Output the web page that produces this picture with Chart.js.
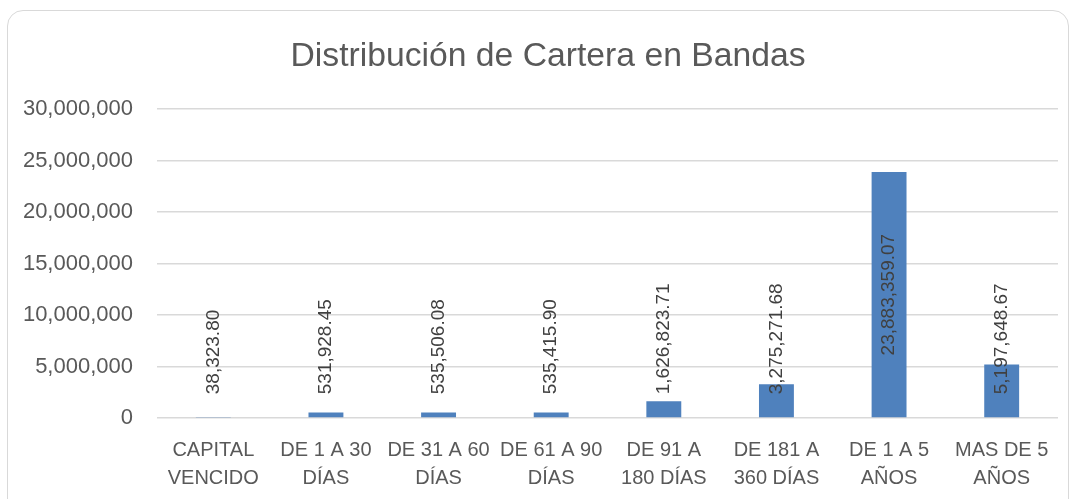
<!DOCTYPE html>
<html>
<head>
<meta charset="utf-8">
<script src="https://cdn.jsdelivr.net/npm/chart.js@4"></script>
<style>
  html, body { margin: 0; padding: 0; background: #fff; overflow: hidden; }
  #wrap { position: relative; width: 1075px; height: 499px; }
  #frame {
    position: absolute; left: 7px; top: 10px; width: 1062px; height: 520px;
    border: 1.5px solid #d9d9d9; border-radius: 16px; box-sizing: border-box;
  }
  canvas { position: absolute; left: 0; top: 0; }
</style>
</head>
<body>
<div id="wrap">
  <div id="frame"></div>
  <canvas id="chart" width="1075" height="499"></canvas>
</div>
<script>
// categories and values
const categories = [
  ['CAPITAL', 'VENCIDO'],
  ['DE 1 A 30', 'DÍAS'],
  ['DE 31 A 60', 'DÍAS'],
  ['DE 61 A 90', 'DÍAS'],
  ['DE 91 A', '180 DÍAS'],
  ['DE 181 A', '360 DÍAS'],
  ['DE 1 A 5', 'AÑOS'],
  ['MAS DE 5', 'AÑOS']
]
const saldo = [38323.80, 531928.45, 535506.08, 535415.90, 1626823.71, 3275271.68, 23883359.07, 5197648.67]
const yMax = 30000000
const yStep = 5000000

const fmtInt = v => Math.round(v).toLocaleString('en-US')
const fmtDec = v => v.toLocaleString('en-US', {minimumFractionDigits: 2, maximumFractionDigits: 2})

// rotated value labels, centred on the bar but kept clear of the base
const barLabels = {
    id: 'barLabels',
    afterLayout(chart) {
        // the title sits a bit right of the canvas centre in the original
        if (chart.titleBlock) {
            chart.titleBlock.left += 19
            chart.titleBlock.right += 19
        }
    },
    afterDatasetsDraw(chart) {
        const ctx = chart.ctx
        const meta = chart.getDatasetMeta(0)
        ctx.save()
        ctx.font = '19px "Liberation Sans", Arial, sans-serif'
        ctx.fillStyle = '#404040'
        ctx.textAlign = 'center'
        ctx.textBaseline = 'middle'
        meta.data.forEach((bar, i) => {
            const text = fmtDec(saldo[i])
            const w = ctx.measureText(text).width
            let cy = (bar.y + bar.base) / 2
            if (cy + w / 2 > bar.base - 23) {
                cy = bar.base - 23 - w / 2
            }
            ctx.save()
            ctx.translate(bar.x, cy)
            ctx.rotate(-Math.PI / 2)
            ctx.fillText(text, 0, 0)
            ctx.restore()
        })
        ctx.restore()
    }
}

new Chart(document.getElementById('chart'), {
    type: 'bar',
    data: {
        labels: categories,
        datasets: [{
            data: saldo,
            backgroundColor: '#4f81bd',
            barPercentage: 0.31,
            categoryPercentage: 1
        }]
    },
    options: {
        responsive: false,
        animation: false,
        layout: {padding: {left: 0, right: 17, top: 0, bottom: 0}},
        plugins: {
            legend: {display: false},
            tooltip: {enabled: false},
            title: {
                display: true,
                text: 'Distribución de Cartera en Bandas',
                color: '#595959',
                font: {family: '"Liberation Sans", Arial, sans-serif', size: 33.7, weight: 'normal'},
                padding: {top: 36, bottom: 32.6}
            }
        },
        scales: {
            x: {
                grid: {display: false},
                border: {display: false},
                ticks: {
                    color: '#595959',
                    font: {family: '"Liberation Sans", Arial, sans-serif', size: 20, lineHeight: 1.4},
                    padding: 10,
                    maxRotation: 0,
                    autoSkip: false
                },
                afterFit: s => { s.height = 81 }
            },
            y: {
                min: 0,
                max: yMax,
                grid: {color: '#d9d9d9', lineWidth: 1.5, drawTicks: false},
                border: {display: false},
                ticks: {
                    stepSize: yStep,
                    color: '#595959',
                    font: {family: '"Liberation Sans", Arial, sans-serif', size: 22},
                    padding: 24,
                    callback: v => fmtInt(v)
                },
                afterFit: s => { s.width = 157 }
            }
        }
    },
    plugins: [barLabels]
})
</script>
</body>
</html>
